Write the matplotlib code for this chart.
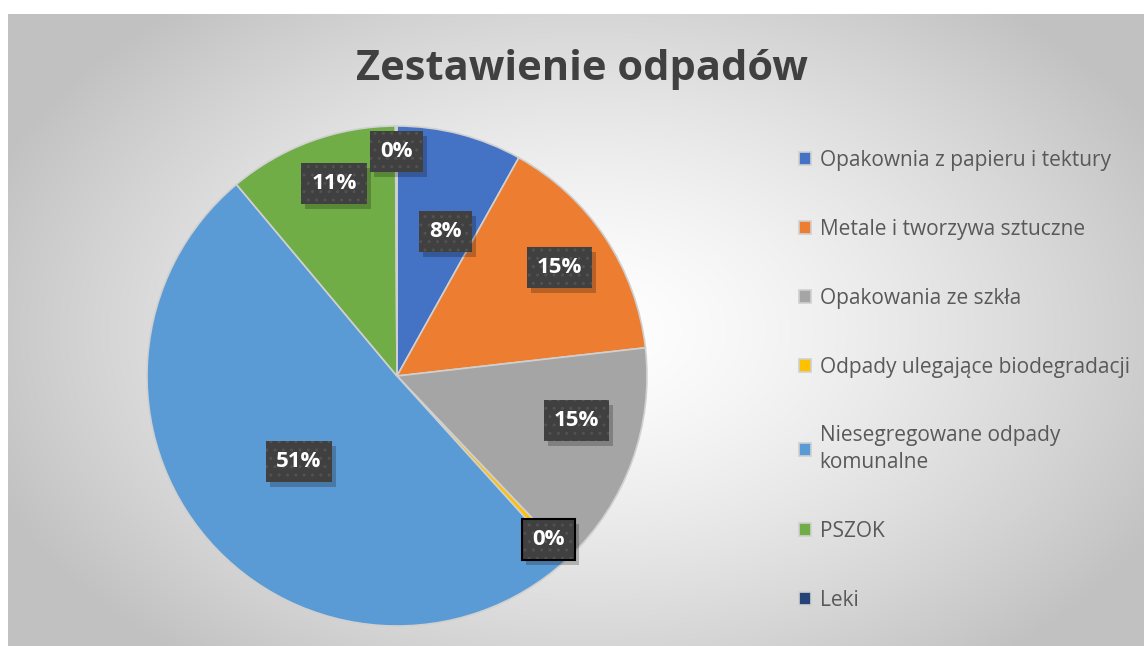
#!/usr/bin/env python
# -*- coding: utf-8 -*-

import numpy as np
import matplotlib
matplotlib.use('Agg')
import matplotlib.pyplot as plt
from matplotlib.patches import Rectangle

plt.rcParams['font.family'] = ['Open Sans', 'DejaVu Sans']
plt.rcParams['hatch.linewidth'] = 1.0

# Data

categories = ['Opakownia z papieru i tektury', 'Metale i tworzywa sztuczne',
              'Opakowania ze szkła', 'Odpady ulegające biodegradacji',
              'Niesegregowane odpady\nkomunalne', 'PSZOK', 'Leki']
shares = [8.1, 15.1, 14.7, 0.4, 50.6, 11.0, 0.1]
colors = ['#4472C4', '#ED7D31', '#A5A5A5', '#FFC000', '#5B9BD5', '#70AD47', '#264478']
title = 'Zestawienie odpadów'

# label placement (fraction of radius, angular shift in degrees)
label_dist = [0.61, 0.78, 0.74, 0.89, 0.52, 0.81, 0.90]
label_shift = [4, 0, -6, 0, 0, 2, 0]
outlined = [False, False, False, True, False, False, False]

W, H = 1144, 646
fig = plt.figure(figsize=(W / 100, H / 100), dpi=100)

# Background: white margin, then chart area with radial gradient
bg = fig.add_axes([0, 0, 1, 1])
bg.set_xlim(0, W)
bg.set_ylim(H, 0)
bg.axis('off')
yy, xx = np.mgrid[14:H, 8:W]
t = np.sqrt(((xx - 590) / 640.0) ** 2 + ((yy - 330) / 420.0) ** 2)
t = np.clip(t, 0, 1) ** 1.4
shade = 1.0 - t * (1.0 - 0.76)
img = np.dstack([shade, shade, shade])
bg.imshow(img, extent=(8, W, H, 14), interpolation='bilinear', aspect='auto')

fig.text(582 / W, 1 - 70 / H, title, ha='center', va='center',
         fontsize=30, fontweight='bold', color='#404040')

# Pie
cx, cy, r = 397, 376, 250
ax = fig.add_axes([(cx - r) / W, (H - cy - r) / H, 2 * r / W, 2 * r / H])
wedges, _ = ax.pie(shares, colors=colors, startangle=90, counterclock=False,
                   radius=1.0, wedgeprops=dict(edgecolor='#d0d0d0', linewidth=1.2))
ax.set_xlim(-1, 1)
ax.set_ylim(-1, 1)
ax.set_aspect('equal')
ax.axis('off')

total = sum(shares)
labels = []
for i, w in enumerate(wedges):
    ang = np.deg2rad((w.theta1 + w.theta2) / 2.0 - label_shift[i])
    x = label_dist[i] * np.cos(ang)
    y = label_dist[i] * np.sin(ang)
    txt = ax.text(x, y, '%.0f%%' % (100.0 * shares[i] / total), ha='center', va='center',
                  fontsize=16, fontweight='bold', color='white', zorder=5,
                  bbox=dict(boxstyle='square,pad=0.45', facecolor='#404040',
                            edgecolor='#525252', linewidth=0.0, hatch='..'))
    labels.append(txt)

# soft shadows behind the label boxes, outline on the selected one
fig.canvas.draw()
inv = ax.transData.inverted()
for i, txt in enumerate(labels):
    ext = txt.get_bbox_patch().get_window_extent()
    (x0, y0), (x1, y1) = inv.transform([(ext.x0 + 4, ext.y0 - 5), (ext.x1 + 4, ext.y1 - 5)])
    ax.add_patch(Rectangle((x0, y0), x1 - x0, y1 - y0, facecolor='black',
                           edgecolor='none', alpha=0.22, zorder=4))
    if outlined[i]:
        (x0, y0), (x1, y1) = inv.transform([(ext.x0, ext.y0), (ext.x1, ext.y1)])
        ax.add_patch(Rectangle((x0, y0), x1 - x0, y1 - y0, facecolor='none',
                               edgecolor='black', linewidth=1.5, zorder=6))

# Legend
leg = fig.legend(wedges, categories, loc='upper left',
                 bbox_to_anchor=(780 / W, 1 - 131 / H), frameon=False,
                 fontsize=15, labelcolor='#595959', labelspacing=2.3,
                 handlelength=0.6, handleheight=0.6, handletextpad=0.4)
for t_ in leg.get_texts():
    t_.set_linespacing(1.35)

fig.savefig('out.png', dpi=100)
